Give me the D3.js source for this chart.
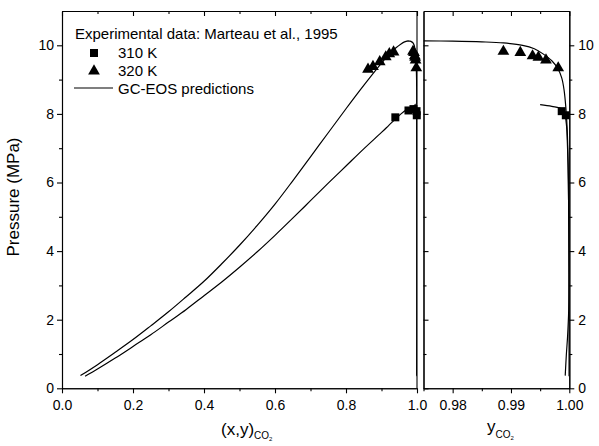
<!DOCTYPE html>
<html>
<head>
<meta charset="utf-8">
<script src="https://cdn.jsdelivr.net/npm/d3@7"></script>
<style>
  body { margin: 0; background: #fff; }
  svg { font-family: "Liberation Sans", Arial, sans-serif; }
</style>
</head>
<body>
<div id="chart"></div>
<script>
// GC-EOS predictions, bubble branch (x_CO2, P in MPa)
var bubble310 = [[0.065,0.35],[0.1,0.56],[0.15,0.88],[0.2,1.22],[0.25,1.56],[0.3,1.93],[0.35,2.3],[0.4,2.7],
  [0.45,3.1],[0.5,3.53],[0.55,3.98],[0.6,4.46],[0.65,4.96],[0.7,5.47],[0.75,5.98],[0.8,6.48],[0.85,6.98],
  [0.9,7.46],[0.92,7.66],[0.938,7.84],[0.955,8.0],[0.97,8.12],[0.98,8.18],[0.99,8.22],[0.995,8.27]];
var bubble320 = [[0.052,0.37],[0.1,0.69],[0.15,1.05],[0.2,1.42],[0.25,1.82],[0.3,2.23],[0.35,2.67],[0.4,3.12],
  [0.45,3.63],[0.5,4.17],[0.55,4.75],[0.6,5.37],[0.65,6.05],[0.7,6.75],[0.75,7.45],[0.8,8.15],[0.85,8.83],
  [0.9,9.48],[0.92,9.72],[0.94,9.92],[0.955,10.04],[0.965,10.1],[0.975,10.13]];
// GC-EOS predictions, dew branch (y_CO2, P in MPa)
var dew310 = [[0.995,8.27],[0.997,8.22],[0.9987,8.15],[0.9992,8.0],[0.9995,7.7],[0.9997,7.0],[0.99985,6.0],
  [0.99993,4.0],[0.99996,2.0],[0.99996,0.35]];
var dew320 = [[0.975,10.13],[0.98,10.12],[0.985,10.1],[0.9887,10.07],[0.992,10.0],[0.994,9.9],[0.9955,9.75],
  [0.997,9.55],[0.998,9.33],[0.9987,9.05],[0.9991,8.7],[0.9994,8.2],[0.99965,7.5],[0.9998,6.5],[0.9999,5.0],
  [0.99995,3.5],[0.9999,2.3],[0.9997,1.5],[0.9995,1.0],[0.9993,0.37]];

// Experimental data, Marteau et al. 1995
var exp310x = [[0.939,7.9],[0.976,8.1],[0.99,8.14]];
var exp310y = [[0.9987,8.08],[0.9994,7.96]];
var exp320x = [[0.862,9.3],[0.876,9.38],[0.895,9.52],[0.912,9.66],[0.922,9.75],[0.934,9.8]];
var exp320y = [[0.9887,9.82],[0.9916,9.79],[0.9937,9.69],[0.9947,9.65],[0.996,9.57],[0.9981,9.34]];

var leftTicks = [0, 0.2, 0.4, 0.6, 0.8, 1.0];
var leftMinor = [0.1, 0.3, 0.5, 0.7, 0.9];
var rightTicks = [0.98, 0.99, 1.00];
var rightMinor = [0.975, 0.985, 0.995];
var pTicks = [0, 2, 4, 6, 8, 10];
var pMinor = [1, 3, 5, 7, 9];

var width = 599, height = 446;
var svg = d3.select("#chart").append("svg")
  .attr("width", width)
  .attr("height", height);

var xL = d3.scaleLinear().domain([0, 1]).range([62, 417]);
var xR = d3.scaleLinear().domain([0.975, 1]).range([423.5, 569.3]);
var y = d3.scaleLinear().domain([0, 11]).range([388.3, 11]);

// clip regions for each panel
var defs = svg.append("defs");
defs.append("clipPath").attr("id", "clipL").append("rect")
  .attr("x", xL(0)).attr("y", y(11)).attr("width", xL(1) - xL(0)).attr("height", y(0) - y(11));
defs.append("clipPath").attr("id", "clipR").append("rect")
  .attr("x", xR(0.975)).attr("y", y(11)).attr("width", xR(1) - xR(0.975)).attr("height", y(0) - y(11));

function styleAxis(g) {
  g.select(".domain").attr("stroke-width", 1.1);
  g.selectAll(".tick line").attr("stroke-width", 1.1);
  g.selectAll("text").attr("font-size", 14).attr("fill", "#000")
    .attr("font-family", "Liberation Sans, Arial, sans-serif");
}

// left panel axes
svg.append("g").attr("transform", "translate(0," + y(0) + ")")
  .call(d3.axisBottom(xL).tickValues(leftTicks).tickFormat(d3.format(".1f")).tickSize(5).tickSizeOuter(0).tickPadding(7)).call(styleAxis);
svg.append("g").attr("transform", "translate(0," + y(0) + ")")
  .call(d3.axisBottom(xL).tickValues(leftMinor).tickFormat("").tickSize(3).tickSizeOuter(0)).call(styleAxis);
svg.append("g").attr("transform", "translate(0," + y(11) + ")")
  .call(d3.axisBottom(xL).tickValues(leftTicks).tickFormat("").tickSize(5).tickSizeOuter(0)).call(styleAxis);
svg.append("g").attr("transform", "translate(0," + y(11) + ")")
  .call(d3.axisBottom(xL).tickValues(leftMinor).tickFormat("").tickSize(3).tickSizeOuter(0)).call(styleAxis);
svg.append("g").attr("transform", "translate(" + xL(0) + ",0)")
  .call(d3.axisLeft(y).tickValues(pTicks).tickSize(5).tickSizeOuter(0).tickPadding(3)).call(styleAxis);
svg.append("g").attr("transform", "translate(" + xL(0) + ",0)")
  .call(d3.axisLeft(y).tickValues(pMinor).tickFormat("").tickSize(3).tickSizeOuter(0)).call(styleAxis);
svg.append("line")
  .attr("x1", xL(1)).attr("x2", xL(1)).attr("y1", y(0)).attr("y2", y(11))
  .attr("stroke", "#000").attr("stroke-width", 1.1);

// right panel axes
svg.append("g").attr("transform", "translate(0," + y(0) + ")")
  .call(d3.axisBottom(xR).tickValues(rightTicks).tickFormat(d3.format(".2f")).tickSize(5).tickSizeOuter(0).tickPadding(7)).call(styleAxis);
svg.append("g").attr("transform", "translate(0," + y(0) + ")")
  .call(d3.axisBottom(xR).tickValues(rightMinor).tickFormat("").tickSize(3).tickSizeOuter(0)).call(styleAxis);
svg.append("g").attr("transform", "translate(0," + y(11) + ")")
  .call(d3.axisBottom(xR).tickValues(rightTicks).tickFormat("").tickSize(5).tickSizeOuter(0)).call(styleAxis);
svg.append("g").attr("transform", "translate(0," + y(11) + ")")
  .call(d3.axisBottom(xR).tickValues(rightMinor.slice(1)).tickFormat("").tickSize(3).tickSizeOuter(0)).call(styleAxis);
svg.append("g").attr("transform", "translate(" + xR(0.975) + ",0)")
  .call(d3.axisRight(y).tickValues(pTicks).tickFormat("").tickSize(5).tickSizeOuter(0)).call(styleAxis);
svg.append("g").attr("transform", "translate(" + xR(0.975) + ",0)")
  .call(d3.axisRight(y).tickValues(pMinor).tickFormat("").tickSize(3).tickSizeOuter(0)).call(styleAxis);
svg.append("g").attr("transform", "translate(" + xR(1) + ",0)")
  .call(d3.axisRight(y).tickValues(pTicks).tickSize(5).tickSizeOuter(0).tickPadding(4)).call(styleAxis);
svg.append("g").attr("transform", "translate(" + xR(1) + ",0)")
  .call(d3.axisRight(y).tickValues(pMinor).tickFormat("").tickSize(3).tickSizeOuter(0)).call(styleAxis);

// curves
var lineL = d3.line().curve(d3.curveCatmullRom.alpha(0.5))
  .x(function(d) { return xL(d[0]); }).y(function(d) { return y(d[1]); });
var lineR = d3.line().curve(d3.curveCatmullRom.alpha(0.5))
  .x(function(d) { return xR(d[0]); }).y(function(d) { return y(d[1]); });

var cl = svg.append("g").attr("clip-path", "url(#clipL)");
var cr = svg.append("g").attr("clip-path", "url(#clipR)");

[bubble310.concat(dew310), bubble320.concat(dew320)].forEach(function(c) {
  cl.append("path").attr("d", lineL(c)).attr("fill", "none").attr("stroke", "#000").attr("stroke-width", 1.2);
});
[dew310, dew320].forEach(function(c) {
  cr.append("path").attr("d", lineR(c)).attr("fill", "none").attr("stroke", "#000").attr("stroke-width", 1.2);
});

// markers
var sq = d3.symbol().type(d3.symbolSquare).size(64);
var tri = d3.symbol().type(d3.symbolTriangle).size(60);

function drawPts(g, data, sx, sym) {
  g.selectAll(null).data(data).enter().append("path")
    .attr("d", sym)
    .attr("transform", function(d) { return "translate(" + sx(d[0]) + "," + y(d[1]) + ")"; })
    .attr("fill", "#000");
}
drawPts(svg, exp310x.concat(exp310y), xL, sq);
drawPts(svg, exp320x.concat(exp320y), xL, tri);
drawPts(svg, exp310y, xR, sq);
drawPts(svg, exp320y, xR, tri);

// axis titles
svg.append("text")
  .attr("transform", "translate(19,197) rotate(-90)")
  .attr("text-anchor", "middle")
  .attr("font-size", 17)
  .text("Pressure (MPa)");

var tl = svg.append("text").attr("x", 221).attr("y", 435).attr("font-size", 17);
tl.append("tspan").text("(x,y)");
tl.append("tspan").attr("font-size", 10).attr("dy", 4).text("CO");
tl.append("tspan").attr("font-size", 6).attr("dy", 2).text("2");

var tr = svg.append("text").attr("x", 487).attr("y", 432).attr("font-size", 17);
tr.append("tspan").text("y");
tr.append("tspan").attr("font-size", 10).attr("dy", 6).text("CO");
tr.append("tspan").attr("font-size", 6).attr("dy", 2).text("2");

// legend
var lg = svg.append("g").attr("font-size", 15);
lg.append("text").attr("x", 75).attr("y", 39).text("Experimental data: Marteau et al., 1995");
lg.append("path").attr("d", sq).attr("transform", "translate(94,53)");
lg.append("text").attr("x", 118).attr("y", 58).text("310 K");
lg.append("path").attr("d", tri).attr("transform", "translate(94,71)");
lg.append("text").attr("x", 118).attr("y", 76).text("320 K");
lg.append("line").attr("x1", 74).attr("x2", 113).attr("y1", 88).attr("y2", 88)
  .attr("stroke", "#000").attr("stroke-width", 1.2);
lg.append("text").attr("x", 118).attr("y", 94).text("GC-EOS predictions");
</script>
</body>
</html>
